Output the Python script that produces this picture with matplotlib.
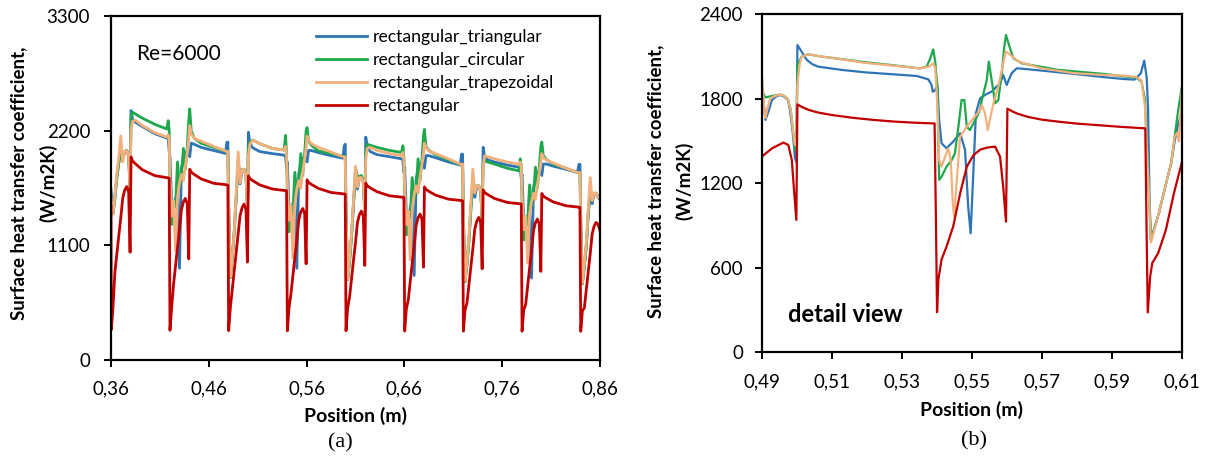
import matplotlib
matplotlib.use("Agg")
import matplotlib.pyplot as plt

plt.rcParams['font.family'] = ['Lato', 'DejaVu Sans']

# ---- panel (a): Re=6000, full length ----
pos_a = [
    0.3600, 0.3603, 0.362, 0.364, 0.366, 0.368, 0.370, 0.372, 0.374, 0.376, 0.378, 0.3795, 0.3805, 0.382, 0.385, 0.392, 0.405, 0.417, 0.4185,
    0.4195, 0.4203, 0.422, 0.424, 0.426, 0.428, 0.430, 0.432, 0.434, 0.436, 0.438, 0.4395, 0.4405, 0.442, 0.445, 0.452, 0.465, 0.477, 0.4785,
    0.4795, 0.4803, 0.482, 0.484, 0.486, 0.488, 0.490, 0.492, 0.494, 0.496, 0.498, 0.4995, 0.5005, 0.502, 0.505, 0.512, 0.525, 0.537, 0.5385,
    0.5395, 0.5403, 0.542, 0.544, 0.546, 0.548, 0.550, 0.552, 0.554, 0.556, 0.558, 0.5595, 0.5605, 0.562, 0.565, 0.572, 0.585, 0.597, 0.5985,
    0.5995, 0.6003, 0.602, 0.604, 0.606, 0.608, 0.610, 0.612, 0.614, 0.616, 0.618, 0.6195, 0.6205, 0.622, 0.625, 0.632, 0.645, 0.657, 0.6585,
    0.6595, 0.6603, 0.662, 0.664, 0.666, 0.668, 0.670, 0.672, 0.674, 0.676, 0.678, 0.6795, 0.6805, 0.682, 0.685, 0.692, 0.705, 0.717, 0.7185,
    0.7195, 0.7203, 0.722, 0.724, 0.726, 0.728, 0.730, 0.732, 0.734, 0.736, 0.738, 0.7395, 0.7405, 0.742, 0.745, 0.752, 0.765, 0.777, 0.7785,
    0.7795, 0.7803, 0.782, 0.784, 0.786, 0.788, 0.790, 0.792, 0.794, 0.796, 0.798, 0.7995, 0.8005, 0.802, 0.805, 0.812, 0.825, 0.837, 0.8385,
    0.8395, 0.8403, 0.842, 0.844, 0.846, 0.848, 0.850, 0.852, 0.854, 0.856, 0.858, 0.860,
]
tri_a = [
    1640, 1600, 1420, 1560, 1760, 1900, 2050, 1930, 1990, 2010, 1960, 1650, 2393, 2310, 2280, 2240, 2170, 2130, 2120,
    2000, 1950, 1500, 1500, 1550, 1600, 880, 1840, 1930, 1980, 2010, 1970, 1950, 2080, 2070, 2040, 2010, 1982, 2088,
    2090, 1500, 800, 990, 1230, 1560, 1910, 1690, 1820, 1830, 1770, 1470, 2185, 2080, 2035, 2000, 1980, 1965, 1950,
    1841, 1898, 1460, 1450, 1500, 1556, 880, 1791, 1880, 1930, 1960, 1920, 1900, 2010, 2010, 1990, 1960, 1936, 2050,
    2071, 1450, 780, 960, 1200, 1500, 1750, 1640, 1750, 1760, 1700, 1420, 2138, 2040, 2000, 1970, 1950, 1930, 1915,
    1800, 1850, 1400, 1400, 1450, 1500, 811, 1730, 1820, 1870, 1900, 1860, 1840, 1960, 1960, 1940, 1900, 1870, 1975,
    1975, 1400, 760, 930, 1150, 1450, 1700, 1560, 1660, 1670, 1620, 1360, 2040, 1950, 1920, 1900, 1870, 1850, 1830,
    1740, 1780, 1330, 1340, 1380, 1430, 786, 1650, 1740, 1790, 1820, 1790, 1770, 1880, 1880, 1860, 1830, 1800, 1877,
    1877, 1350, 740, 900, 1100, 1400, 1620, 1500, 1590, 1600, 1560, 1540,
]
circ_a = [
    1520, 1480, 1400, 1550, 1750, 1890, 1990, 1960, 2000, 2010, 1970, 1640, 2330, 2377, 2360, 2320, 2260, 2216, 2296,
    2200, 1650, 1300, 1450, 1480, 1900, 1650, 1780, 2030, 1830, 2040, 2300, 2409, 2200, 2130, 2080, 2040, 2005, 2000,
    2000, 1450, 790, 980, 1220, 1560, 1877, 1810, 1825, 1830, 1780, 1460, 2043, 2085, 2110, 2075, 2030, 2014, 2154,
    1983, 1600, 1230, 1380, 1420, 1800, 1590, 1700, 1980, 1770, 1980, 2200, 2230, 2100, 2060, 2005, 1980, 1955, 1950,
    1955, 1400, 770, 950, 1190, 1520, 1840, 1760, 1760, 1770, 1720, 1420, 2000, 2071, 2060, 2040, 2010, 1991, 2055,
    1940, 1560, 1200, 1340, 1380, 1750, 1540, 1650, 1930, 1720, 1930, 2150, 2212, 2050, 2010, 1970, 1920, 1877, 1870,
    1875, 1350, 750, 920, 1140, 1460, 1720, 1650, 1670, 1670, 1620, 1350, 1880, 1911, 1900, 1880, 1840, 1815, 1930,
    1860, 1500, 1150, 1280, 1320, 1680, 1480, 1580, 1850, 1650, 1850, 2050, 2091, 1960, 1925, 1880, 1840, 1798, 1795,
    1798, 1300, 730, 890, 1090, 1410, 1640, 1580, 1600, 1600, 1560, 1550,
]
trap_a = [
    1570, 1500, 1400, 1580, 1800, 1950, 2150, 1900, 2000, 2007, 1960, 1660, 2200, 2290, 2300, 2250, 2180, 2140, 2160,
    2100, 1750, 1380, 1530, 1050, 1560, 1700, 1780, 1720, 1860, 1990, 2120, 2248, 2170, 2130, 2100, 2050, 2005, 2000,
    2000, 1450, 800, 990, 1240, 1600, 1995, 1700, 1825, 1830, 1770, 1480, 1960, 2070, 2110, 2075, 2030, 2014, 2050,
    1960, 1700, 1340, 1480, 980, 1500, 1640, 1720, 1650, 1800, 1930, 2040, 2149, 2110, 2075, 2040, 1995, 1950, 1945,
    1948, 1400, 776, 989, 1226, 1534, 1860, 1660, 1750, 1750, 1700, 1430, 1930, 2030, 2040, 2010, 1980, 1960, 1990,
    1920, 1650, 1300, 1430, 960, 1450, 1590, 1670, 1600, 1750, 1880, 1980, 2080, 2040, 2005, 1980, 1930, 1880, 1875,
    1880, 1350, 760, 950, 1180, 1500, 1831, 1600, 1670, 1670, 1620, 1370, 1860, 1959, 1950, 1930, 1900, 1879, 1900,
    1840, 1580, 1250, 1380, 930, 1400, 1520, 1600, 1540, 1680, 1800, 1900, 1980, 1940, 1920, 1890, 1840, 1800, 1798,
    1798, 1300, 740, 920, 1130, 1450, 1750, 1530, 1600, 1600, 1560, 1560,
]
rect_a = [
    1480, 290, 500, 844, 1024, 1194, 1364, 1554, 1629, 1664, 1614, 1034, 1947, 1910, 1882, 1825, 1768, 1750, 1747,
    1744, 285, 500, 730, 910, 1080, 1250, 1440, 1515, 1550, 1500, 970, 1830, 1802, 1781, 1738, 1695, 1682, 1679,
    1677, 282, 500, 676, 856, 1026, 1196, 1386, 1461, 1496, 1446, 939, 1766, 1740, 1720, 1680, 1640, 1627, 1625,
    1623, 280, 500, 634, 814, 984, 1154, 1344, 1419, 1454, 1404, 923, 1728, 1703, 1684, 1646, 1607, 1595, 1593,
    1591, 280, 500, 609, 789, 959, 1129, 1319, 1394, 1429, 1379, 907, 1696, 1671, 1652, 1614, 1575, 1563, 1561,
    1559, 278, 490, 580, 760, 930, 1100, 1290, 1365, 1400, 1350, 891, 1661, 1637, 1618, 1581, 1543, 1531, 1529,
    1527, 277, 480, 548, 728, 898, 1068, 1258, 1333, 1368, 1318, 875, 1632, 1608, 1588, 1550, 1512, 1500, 1498,
    1496, 276, 480, 532, 712, 882, 1052, 1242, 1317, 1352, 1302, 850, 1597, 1573, 1554, 1517, 1480, 1468, 1466,
    1464, 275, 470, 500, 680, 850, 1020, 1210, 1285, 1320, 1300, 1240,
]

# ---- panel (b): detail view, (position, h) pairs ----
tri_b = [
    (0.4900, 1880), (0.4906, 1760), (0.4911, 1650), (0.4918, 1700), (0.4929, 1790), (0.4940, 1815),
    (0.4952, 1827), (0.4965, 1815), (0.4975, 1790), (0.4981, 1721), (0.4990, 1531), (0.4995, 1380),
    (0.4999, 1350), (0.5002, 2182), (0.5014, 2135), (0.5029, 2076), (0.5045, 2045), (0.5062, 2028),
    (0.5129, 2005), (0.5195, 1988), (0.5270, 1975), (0.5343, 1962), (0.5376, 1938), (0.5385, 1900),
    (0.5389, 1850), (0.5395, 1860), (0.5402, 1898), (0.5407, 1650), (0.5414, 1484), (0.5428, 1449),
    (0.5447, 1496), (0.5467, 1555), (0.5481, 1437), (0.5490, 1034), (0.5497, 845), (0.5505, 1295),
    (0.5512, 1697), (0.5524, 1804), (0.5540, 1830), (0.5557, 1851), (0.5581, 1910), (0.5590, 1969),
    (0.5600, 1898), (0.5614, 1981), (0.5629, 2017), (0.5681, 2005), (0.5776, 1981), (0.5881, 1953),
    (0.5932, 1941), (0.5965, 1936), (0.5983, 1980), (0.5993, 2071), (0.6000, 1950), (0.6004, 1723),
    (0.6008, 1100), (0.6012, 800), (0.6035, 989), (0.6058, 1226), (0.6070, 1344), (0.6080, 1500),
    (0.6090, 1620), (0.6100, 1699),
]
circ_b = [
    (0.4900, 1862), (0.4906, 1830), (0.4911, 1810), (0.4920, 1815), (0.4935, 1822), (0.4952, 1830),
    (0.4965, 1820), (0.4975, 1795), (0.4983, 1720), (0.4990, 1560), (0.4995, 1440), (0.4999, 1430),
    (0.5002, 2040), (0.5014, 2099), (0.5033, 2116), (0.5070, 2100), (0.5109, 2088), (0.5195, 2060),
    (0.5270, 2040), (0.5352, 2016), (0.5372, 2030), (0.5382, 2090), (0.5390, 2151), (0.5396, 2060),
    (0.5402, 1886), (0.5405, 1460), (0.5407, 1224), (0.5414, 1247), (0.5428, 1318), (0.5443, 1365),
    (0.5452, 1413), (0.5462, 1602), (0.5471, 1791), (0.5479, 1791), (0.5486, 1602), (0.5495, 1578),
    (0.5510, 1650), (0.5524, 1720), (0.5529, 1791), (0.5543, 1933), (0.5549, 2064), (0.5557, 1933),
    (0.5567, 1768), (0.5576, 1791), (0.5586, 1981), (0.5593, 2170), (0.5598, 2253), (0.5605, 2194),
    (0.5619, 2088), (0.5643, 2052), (0.5748, 2005), (0.5881, 1976), (0.5932, 1960), (0.5970, 1950),
    (0.5985, 1924), (0.5995, 1794), (0.6003, 1321), (0.6012, 800), (0.6035, 989), (0.6058, 1226),
    (0.6070, 1344), (0.6080, 1534), (0.6090, 1720), (0.6100, 1877),
]
trap_b = [
    (0.4900, 1993), (0.4904, 1850), (0.4908, 1700), (0.4911, 1664), (0.4916, 1730), (0.4925, 1805),
    (0.4940, 1822), (0.4952, 1830), (0.4965, 1820), (0.4975, 1795), (0.4983, 1720), (0.4990, 1560),
    (0.4995, 1470), (0.4999, 1480), (0.5002, 1900), (0.5008, 2040), (0.5014, 2099), (0.5033, 2116),
    (0.5070, 2100), (0.5109, 2088), (0.5195, 2055), (0.5270, 2037), (0.5352, 2016), (0.5380, 2030),
    (0.5390, 2052), (0.5396, 2020), (0.5402, 1744), (0.5407, 1366), (0.5414, 1318), (0.5424, 1389),
    (0.5433, 1449), (0.5440, 1366), (0.5446, 1058), (0.5450, 963), (0.5456, 1176), (0.5467, 1531),
    (0.5486, 1602), (0.5505, 1662), (0.5524, 1720), (0.5529, 1756), (0.5538, 1697), (0.5546, 1578),
    (0.5552, 1650), (0.5562, 1768), (0.5576, 1886), (0.5590, 2052), (0.5597, 2135), (0.5605, 2123),
    (0.5634, 2064), (0.5700, 2016), (0.5795, 1981), (0.5881, 1969), (0.5932, 1965), (0.5970, 1955),
    (0.5985, 1930), (0.5995, 1747), (0.6003, 1321), (0.6012, 780), (0.6035, 989), (0.6058, 1226),
    (0.6070, 1344), (0.6080, 1534), (0.6088, 1560), (0.6092, 1498), (0.6097, 1700), (0.6100, 1853),
]
rect_b_x = [0.4900, 0.4930, 0.4962, 0.4976, 0.4986, 0.4993, 0.4999, 0.5002, 0.5015, 0.5033, 0.5060,
            0.5100, 0.5160, 0.5220, 0.5280, 0.5340, 0.5394, 0.5398, 0.5401, 0.5405, 0.5414, 0.5428,
            0.5447, 0.5467, 0.5486, 0.5505, 0.5525, 0.5547, 0.5567, 0.5581, 0.5590, 0.5598, 0.5602,
            0.5615, 0.5630, 0.5660, 0.5700, 0.5750, 0.5800, 0.5860, 0.5920, 0.5970, 0.5996, 0.6000,
            0.6003, 0.6010, 0.6016, 0.6033, 0.6055, 0.6078, 0.6100]
rect_b_y = [1389, 1449, 1489, 1472, 1366, 1129, 940, 1760, 1742, 1722, 1703,
            1685, 1665, 1650, 1638, 1630, 1625, 900, 285, 520, 660, 750,
            892, 1129, 1318, 1400, 1440, 1455, 1460, 1389, 1176, 927, 1730,
            1712, 1695, 1672, 1652, 1637, 1624, 1613, 1602, 1594, 1590, 800,
            283, 540, 634, 705, 871, 1131, 1344]

series_names = ['rectangular_triangular', 'rectangular_circular',
                'rectangular_trapezoidal', 'rectangular']
colors = ['#2e75b6', '#1ea84c', '#f4b07c', '#c00000']

xticks_a = [0.36, 0.46, 0.56, 0.66, 0.76, 0.86]
xlabels_a = ['0,36', '0,46', '0,56', '0,66', '0,76', '0,86']
yticks_a = [0, 1100, 2200, 3300]
xticks_b = [0.49, 0.51, 0.53, 0.55, 0.57, 0.59, 0.61]
xlabels_b = ['0,49', '0,51', '0,53', '0,55', '0,57', '0,59', '0,61']
yticks_b = [0, 600, 1200, 1800, 2400]

W, H = 1205, 459
fig = plt.figure(figsize=(W / 100, H / 100), dpi=100)
ax1 = fig.add_axes([111 / W, 1 - 360 / H, 489 / W, 344 / H])
ax2 = fig.add_axes([761.7 / W, 1 - 352.3 / H, 420 / W, 338 / H])

for ys, name, c in zip([tri_a, circ_a, trap_a, rect_a], series_names, colors):
    ax1.plot(pos_a, ys, color=c, lw=2.0, label=name)

for pts, c in zip([tri_b, circ_b, trap_b], colors[:3]):
    ax2.plot([p[0] for p in pts], [p[1] for p in pts], color=c, lw=1.6)
ax2.plot(rect_b_x, rect_b_y, color=colors[3], lw=1.6)

ax1.set_xlim(0.36, 0.86)
ax1.set_ylim(0, 3300)
ax1.set_xticks(xticks_a)
ax1.set_xticklabels(xlabels_a)
ax1.set_yticks(yticks_a)

ax2.set_xlim(0.49, 0.61)
ax2.set_ylim(0, 2400)
ax2.set_xticks(xticks_b)
ax2.set_xticklabels(xlabels_b)
ax2.set_yticks(yticks_b)

for ax, ypad in ((ax1, 10), (ax2, 8.5)):
    for s in ax.spines.values():
        s.set_linewidth(1.6)
    ax.tick_params(direction='out', length=5, width=1.4, labelsize=13.5)
    ax.tick_params(axis='x', pad=10)
    ax.tick_params(axis='y', pad=ypad)
    ax.set_xlabel('Position (m)', fontsize=14, fontweight='bold')

ax1.xaxis.set_label_coords(0.5, -0.135)
ax2.xaxis.set_label_coords(0.5, -0.145)

# two-line y labels, placed line by line
for xpx, ypx in ((19, 183), (656, 181)):
    fig.text(xpx / W, 1 - ypx / H, 'Surface heat transfer coefficient,', rotation=90,
             fontsize=13.5, fontweight='bold', ha='center', va='center')
for xpx, ypx in ((48, 183), (684, 181)):
    fig.text(xpx / W, 1 - ypx / H, '(W/m2K)', rotation=90,
             fontsize=13.5, fontweight='bold', ha='center', va='center')

ax1.legend(loc='upper left', bbox_to_anchor=(0.419, 0.963), frameon=False,
           fontsize=12.7, handlelength=2.9, handletextpad=0.35, labelspacing=0.4,
           borderpad=0, borderaxespad=0)
ax1.text(0.3856, 2940, 'Re=6000', fontsize=15, ha='left', va='center')
ax2.text(0.4975, 265, 'detail view', fontsize=17, fontweight='bold', ha='left', va='center')

fig.text(340 / W, 1 - 443 / H, '(a)', family='Liberation Serif', fontsize=16,
         ha='center', va='center')
fig.text(974 / W, 1 - 441 / H, '(b)', family='Liberation Serif', fontsize=16,
         ha='center', va='center')

fig.savefig('out.png', dpi=100)
